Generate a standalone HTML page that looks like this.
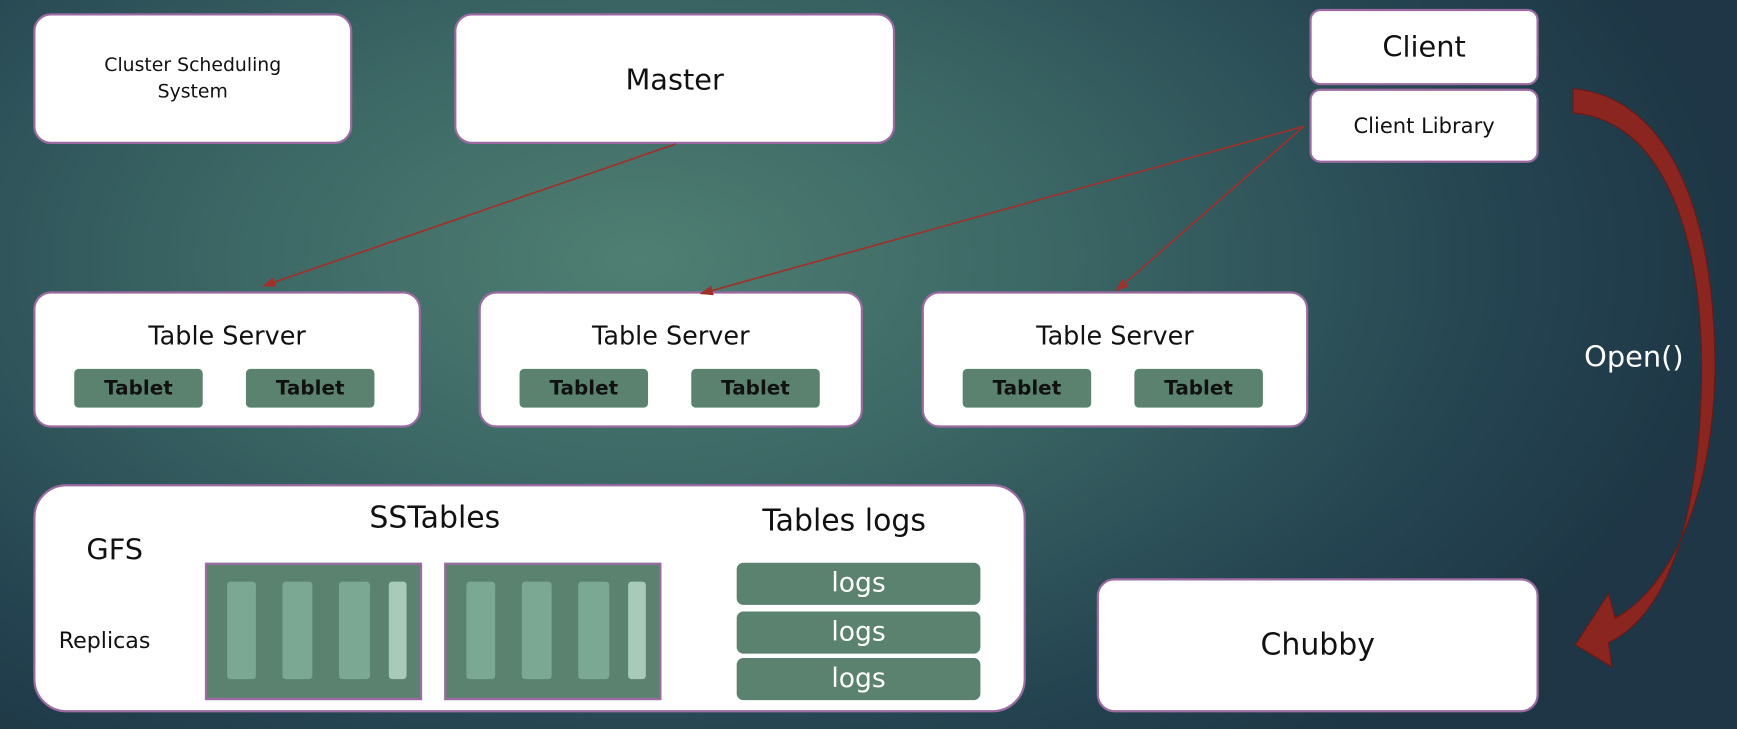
<!DOCTYPE html>
<html><head><meta charset="utf-8"><style>
html,body{margin:0;padding:0;width:1737px;height:729px;overflow:hidden}
body{background:radial-gradient(ellipse 1100px 620px at 640px 260px,#4f7f72 0%,#3a6564 40%,#244350 80%,#1e3645 100%)}
#w{position:absolute;left:0;top:0;width:1568px;height:658px;transform:scale(1.1078);transform-origin:0 0;font-family:"DejaVu Sans","Liberation Sans",sans-serif}
.b{position:absolute;background:#fff;border:2.5px solid #9a6aa0;border-radius:16px;box-sizing:border-box;color:#111;text-align:center}
.t{position:absolute;background:#5a826e;border-radius:4px;color:#111;font-weight:bold;font-size:18px;text-align:center;line-height:35px;width:116px;height:35px;top:68px}
.ts .h{position:absolute;left:0;right:0;top:26px;font-size:23px}
.l{position:absolute;left:665px;width:220px;height:38px;background:#5a826e;border-radius:6px;color:#fff;font-size:24px;line-height:36px;text-align:center}
.ss{position:absolute;top:508px;width:196px;height:124px;background:#5a826e;border:2px solid #9a6aa0;box-sizing:border-box}
.bar{position:absolute;top:15px;height:88px;background:#7aa892;border-radius:3px}
</style></head><body><div id="w">
<div class="b" style="left:30px;top:12px;width:288px;height:118px;font-size:17px;line-height:24px;padding-top:33px">Cluster Scheduling<br>System</div>
<div class="b" style="left:410px;top:12px;width:398px;height:118px;font-size:26px;line-height:118px">Master</div>
<div class="b" style="left:1182px;top:8px;width:207px;height:69px;font-size:26px;line-height:66px;border-radius:10px">Client</div>
<div class="b" style="left:1182px;top:80px;width:207px;height:67px;font-size:19px;line-height:64px;border-radius:10px">Client Library</div>

<div class="b ts" style="left:30px;top:263px;width:350px;height:123px"><div class="h">Table Server</div><div class="t" style="left:35px">Tablet</div><div class="t" style="left:190px">Tablet</div></div>
<div class="b ts" style="left:432px;top:263px;width:347px;height:123px"><div class="h">Table Server</div><div class="t" style="left:35px">Tablet</div><div class="t" style="left:190px">Tablet</div></div>
<div class="b ts" style="left:832px;top:263px;width:349px;height:123px"><div class="h">Table Server</div><div class="t" style="left:35px">Tablet</div><div class="t" style="left:190px">Tablet</div></div>

<div class="b" style="left:30px;top:437px;width:896px;height:206px;border-radius:30px"></div>
<div style="position:absolute;left:78px;top:482px;font-size:26px;color:#111">GFS</div>
<div style="position:absolute;left:53px;top:566px;font-size:20px;color:#111">Replicas</div>
<div style="position:absolute;left:300px;top:452px;width:185px;text-align:center;font-size:27px;color:#111">SSTables</div>
<div style="position:absolute;left:662px;top:455px;width:200px;text-align:center;font-size:27px;color:#111">Tables logs</div>
<div class="ss" style="left:185px"><div class="bar" style="left:18px;width:26px"></div><div class="bar" style="left:68px;width:27px"></div><div class="bar" style="left:119px;width:28px"></div><div class="bar" style="left:164px;width:16px;background:#a8cab8"></div></div>
<div class="ss" style="left:401px"><div class="bar" style="left:18px;width:26px"></div><div class="bar" style="left:68px;width:27px"></div><div class="bar" style="left:119px;width:28px"></div><div class="bar" style="left:164px;width:16px;background:#a8cab8"></div></div>
<div class="l" style="top:508px">logs</div>
<div class="l" style="top:552px">logs</div>
<div class="l" style="top:594px">logs</div>

<div class="b" style="left:990px;top:522px;width:399px;height:121px;font-size:27px;line-height:118px">Chubby</div>
<div style="position:absolute;left:1430px;top:308px;font-size:26px;color:#fff">Open()</div>

<svg width="1568" height="658" style="position:absolute;left:0;top:0">
<defs><marker id="a" markerWidth="8" markerHeight="8" refX="7" refY="4" orient="auto"><path d="M0,1 L8,4 L0,7 z" fill="#a0302a"/></marker></defs>
<g stroke="#a0302a" stroke-width="1.5" marker-end="url(#a)">
<line x1="610" y1="130" x2="238" y2="258"/>
<line x1="1177" y1="114" x2="633" y2="265"/>
<line x1="1177" y1="114" x2="1008" y2="262"/>
</g>
<path d="M1420,80 C1510,88 1548,200 1548,330 C1548,440 1510,530 1458,558 L1452,536 L1422,582 L1455,602 L1452,580 C1515,550 1536,440 1536,330 C1536,210 1500,108 1420,102 Z" fill="#8b2520" stroke="#6a1a16" stroke-width="1"/>
</svg>
</div></body></html>
